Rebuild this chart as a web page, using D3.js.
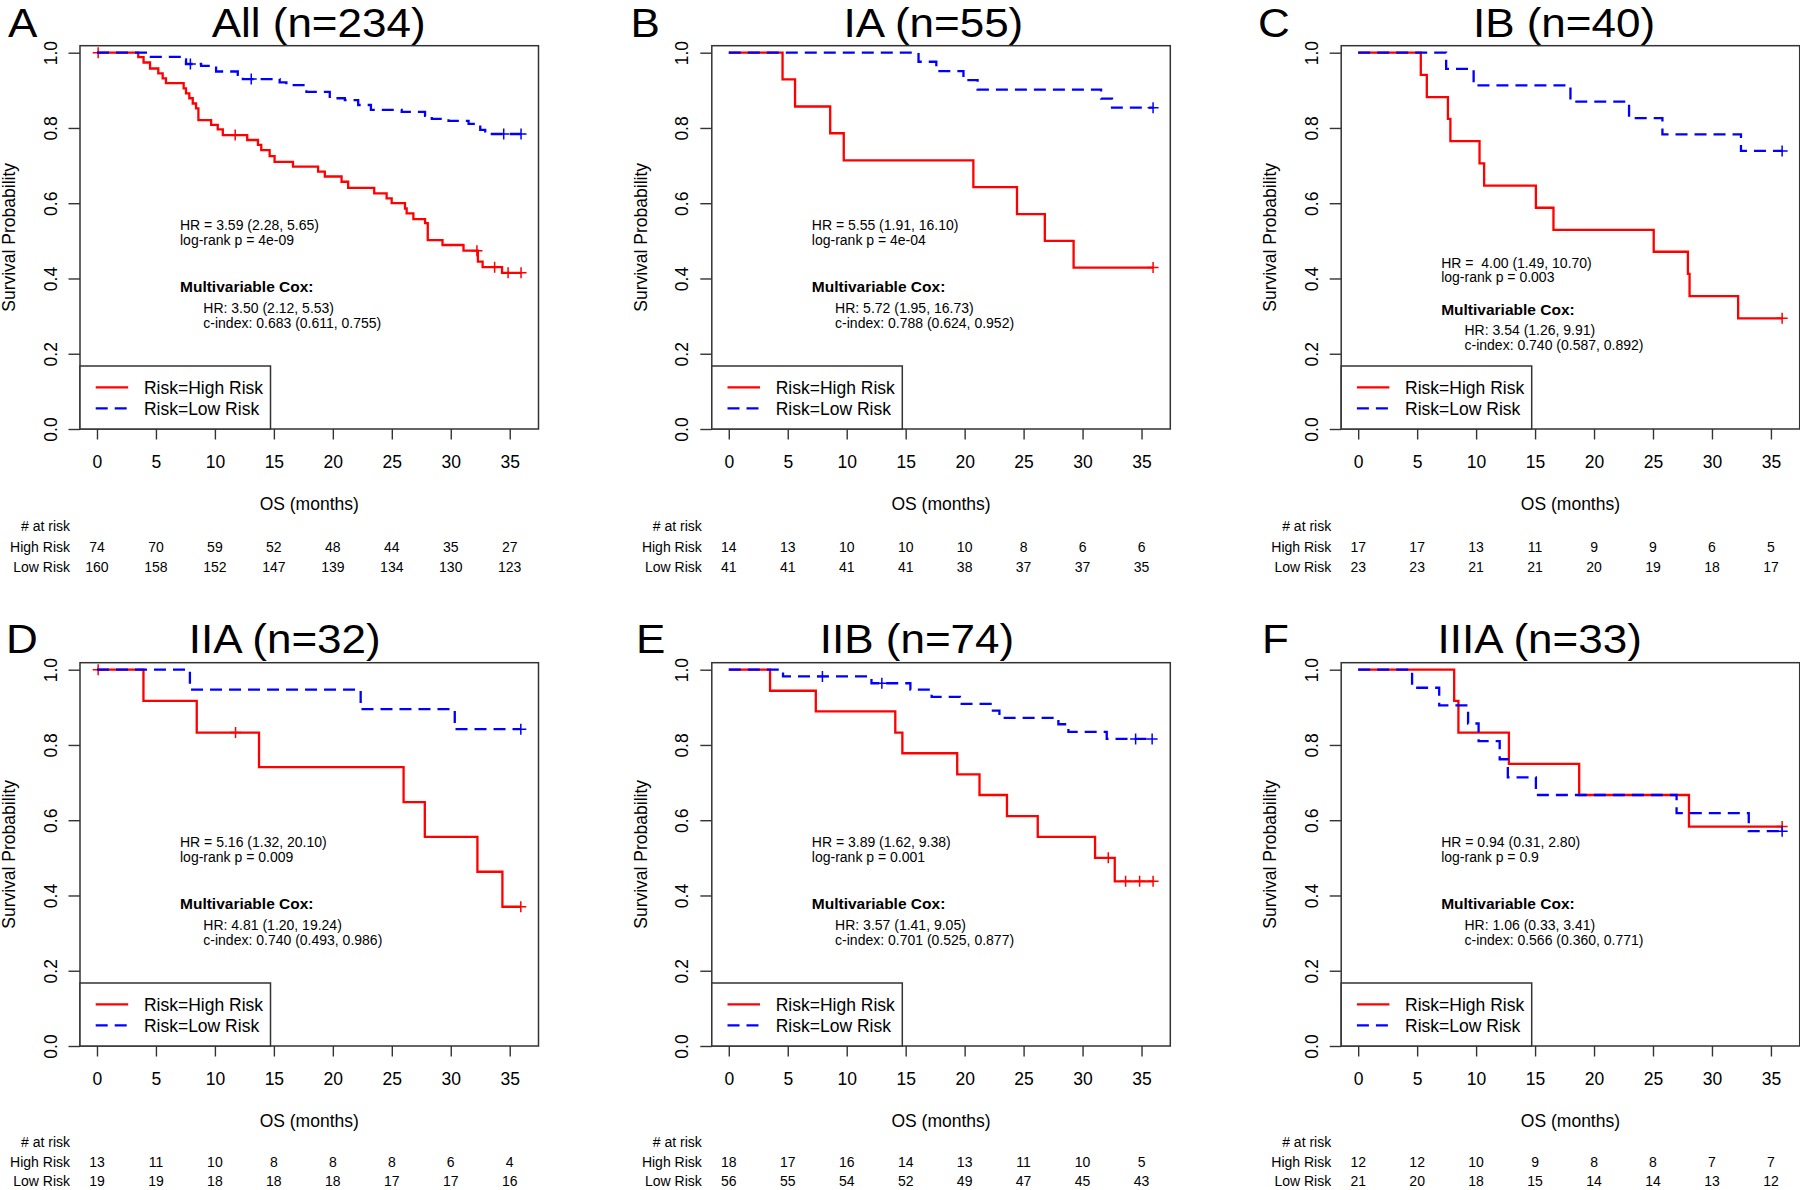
<!DOCTYPE html>
<html><head><meta charset="utf-8">
<script src="https://cdn.jsdelivr.net/npm/d3@7"></script>
<style>
html,body{margin:0;padding:0;background:#fff;}
svg{display:block;font-family:"Liberation Sans",Arial,Helvetica,sans-serif;}
text{white-space:pre;}
</style></head><body>
<svg id="chart" width="1800" height="1190"></svg>
<script>
// ---------------- data ----------------
const xTicks = [0, 5, 10, 15, 20, 25, 30, 35];
const yTicks = [0, 0.2, 0.4, 0.6, 0.8, 1.0];
const panelLetters = ["A", "B", "C", "D", "E", "F"];
const panelTitles = ["All (n=234)", "IA (n=55)", "IB (n=40)", "IIA (n=32)", "IIB (n=74)", "IIIA (n=33)"];
const seriesNames = ["Risk=High Risk", "Risk=Low Risk"];
const riskRowLabels = ["High Risk", "Low Risk"];

// Kaplan-Meier steps: [time (months), survival after the drop]
const allHighSteps = [[3.5,0.988],[3.95,0.974],[4.5,0.958],[5.2,0.945],[5.57,0.932],[5.85,0.919],[7.35,0.905],[7.55,0.892],[7.83,0.879],[8.12,0.865],[8.4,0.852],[8.6,0.821],[9.68,0.808],[10.24,0.796],[10.67,0.781],[12.74,0.768],[13.65,0.755],[13.93,0.741],[14.64,0.725],[15.06,0.710],[16.62,0.697],[18.75,0.684],[19.32,0.671],[20.74,0.657],[21.3,0.641],[23.51,0.626],[24.56,0.613],[24.99,0.600],[26.12,0.586],[26.26,0.573],[26.83,0.558],[27.82,0.547],[28.05,0.502],[29.3,0.489],[31.08,0.474],[32.3,0.445],[32.7,0.430],[34.35,0.415]];
const allHighCensor = [0.1, 11.72, 32.22, 33.72, 34.86, 35.96];
const allLowSteps = [[4.57,0.989],[7.12,0.982],[7.55,0.970],[8.83,0.965],[10.1,0.950],[11.94,0.941],[12.37,0.930],[15.49,0.921],[16.06,0.914],[17.76,0.896],[19.74,0.879],[21.02,0.874],[22.15,0.861],[23.23,0.848],[25.84,0.843],[27.82,0.832],[28.39,0.824],[29.81,0.819],[31.51,0.811],[32.5,0.795],[32.92,0.784]];
const allLowCensor = [7.92, 13.08, 34.49, 35.96];

const iaHighSteps = [[4.56,0.929],[5.62,0.857],[8.6,0.786],[9.75,0.714],[20.74,0.643],[24.44,0.571],[26.8,0.5],[29.24,0.429]];
const iaHighCensor = [35.98];
const iaLowSteps = [[16.09,0.976],[17.6,0.951],[19.9,0.927],[21.1,0.902],[31.57,0.878],[32.5,0.854]];
const iaLowCensor = [35.98];

const ibHighSteps = [[5.31,0.941],[5.82,0.882],[7.61,0.824],[7.82,0.765],[10.29,0.706],[10.68,0.647],[15.07,0.588],[16.56,0.529],[25.06,0.471],[27.96,0.412],[28.1,0.353],[32.22,0.294]];
const ibHighCensor = [35.95];
const ibLowSteps = [[7.46,0.957],[9.79,0.913],[18.0,0.870],[22.97,0.826],[25.8,0.783],[32.46,0.739]];
const ibLowCensor = [35.95];

const iiaHighSteps = [[3.94,0.917],[8.46,0.833],[13.74,0.741],[26.0,0.648],[27.8,0.556],[32.26,0.463],[34.38,0.370]];
const iiaHighCensor = [0.1, 11.75, 35.94];
const iiaLowSteps = [[7.88,0.947],[22.36,0.895],[30.34,0.842]];
const iiaLowCensor = [35.94];

const iibHighSteps = [[3.5,0.944],[7.38,0.889],[14.12,0.833],[14.72,0.778],[19.37,0.722],[21.26,0.667],[23.59,0.611],[26.2,0.556],[31.06,0.5],[32.73,0.4375]];
const iibHighCensor = [32.18, 33.65, 34.84, 35.98];
const iibLowSteps = [[4.6,0.982],[12.1,0.964],[15.4,0.947],[17.2,0.928],[19.6,0.909],[22.2,0.891],[22.95,0.872],[27.95,0.855],[28.8,0.835],[32.05,0.816]];
const iibLowCensor = [7.94, 12.98, 34.5, 35.9];

const iiiaHighSteps = [[8.14,0.917],[8.5,0.833],[12.78,0.75],[18.74,0.667],[28.05,0.583]];
const iiiaHighCensor = [35.95];
const iiiaLowSteps = [[4.57,0.952],[6.87,0.905],[9.32,0.857],[10.21,0.810],[12.0,0.762],[12.69,0.714],[15.07,0.667],[27.0,0.619],[33.12,0.571]];
const iiiaLowCensor = [35.95];

const followUpEnd = [35.96, 35.98, 35.95, 35.94, 35.98, 35.95];

// numbers at risk at 0,5,...,35
const allRiskHigh = [74, 70, 59, 52, 48, 44, 35, 27];
const allRiskLow = [160, 158, 152, 147, 139, 134, 130, 123];
const iaRiskHigh = [14, 13, 10, 10, 10, 8, 6, 6];
const iaRiskLow = [41, 41, 41, 41, 38, 37, 37, 35];
const ibRiskHigh = [17, 17, 13, 11, 9, 9, 6, 5];
const ibRiskLow = [23, 23, 21, 21, 20, 19, 18, 17];
const iiaRiskHigh = [13, 11, 10, 8, 8, 8, 6, 4];
const iiaRiskLow = [19, 19, 18, 18, 18, 17, 17, 16];
const iibRiskHigh = [18, 17, 16, 14, 13, 11, 10, 5];
const iibRiskLow = [56, 55, 54, 52, 49, 47, 45, 43];
const iiiaRiskHigh = [12, 12, 10, 9, 8, 8, 7, 7];
const iiiaRiskLow = [21, 20, 18, 15, 14, 14, 13, 12];

// annotation texts
const hrTexts = [
  ["HR = 3.59 (2.28, 5.65)", "log-rank p = 4e-09"],
  ["HR = 5.55 (1.91, 16.10)", "log-rank p = 4e-04"],
  ["HR =  4.00 (1.49, 10.70)", "log-rank p = 0.003"],
  ["HR = 5.16 (1.32, 20.10)", "log-rank p = 0.009"],
  ["HR = 3.89 (1.62, 9.38)", "log-rank p = 0.001"],
  ["HR = 0.94 (0.31, 2.80)", "log-rank p = 0.9"]
];
const coxTexts = [
  ["HR: 3.50 (2.12, 5.53)", "c-index: 0.683 (0.611, 0.755)"],
  ["HR: 5.72 (1.95, 16.73)", "c-index: 0.788 (0.624, 0.952)"],
  ["HR: 3.54 (1.26, 9.91)", "c-index: 0.740 (0.587, 0.892)"],
  ["HR: 4.81 (1.20, 19.24)", "c-index: 0.740 (0.493, 0.986)"],
  ["HR: 3.57 (1.41, 9.05)", "c-index: 0.701 (0.525, 0.877)"],
  ["HR: 1.06 (0.33, 3.41)", "c-index: 0.566 (0.360, 0.771)"]
];

const panels = [
  {high: allHighSteps, highC: allHighCensor, low: allLowSteps, lowC: allLowCensor, rh: allRiskHigh, rl: allRiskLow},
  {high: iaHighSteps, highC: iaHighCensor, low: iaLowSteps, lowC: iaLowCensor, rh: iaRiskHigh, rl: iaRiskLow},
  {high: ibHighSteps, highC: ibHighCensor, low: ibLowSteps, lowC: ibLowCensor, rh: ibRiskHigh, rl: ibRiskLow},
  {high: iiaHighSteps, highC: iiaHighCensor, low: iiaLowSteps, lowC: iiaLowCensor, rh: iiaRiskHigh, rl: iiaRiskLow},
  {high: iibHighSteps, highC: iibHighCensor, low: iibLowSteps, lowC: iibLowCensor, rh: iibRiskHigh, rl: iibRiskLow},
  {high: iiiaHighSteps, highC: iiiaHighCensor, low: iiiaLowSteps, lowC: iiiaLowCensor, rh: iiiaRiskHigh, rl: iiiaRiskLow}
];

// ---------------- layout ----------------
const boxLefts = [80, 711.8, 1341.2];
const rowY0 = [429, 1046];
const boxW = 458.5;
const unitH = 376.3;        // pixels for survival 0 -> 1
const boxTopExtra = 7;      // box top above survival 1.0
const letterX = [8, 630.5, 1258, 6, 636, 1262];
const titleCX = [318.6, 933.4, 1564, 284.7, 917, 1539.7];
const titleBase = [36.5, 653];
const tableRows = [[101.7, 122.7, 143.3], [100.5, 120.5, 140]];
const annoShift = [[0,0],[0,0],[37.4,22.6],[0,0],[0,0],[0,0]];
const colors = ["#FF0000", "#0000FF"];
const boxColor = "#333";
const dash = "12,7";

const svg = d3.select("#chart");
svg.append("rect").attr("width", 1800).attr("height", 1190).attr("fill", "#fff");

panels.forEach((p, i) => {
  const row = Math.floor(i / 3), col = i % 3;
  const L = boxLefts[col], y0 = rowY0[row];
  const x = d3.scaleLinear().domain([-1.44, 37.44]).range([L, L + boxW]);
  const y = d3.scaleLinear().domain([0, 1]).range([y0, y0 - unitH]);
  const top = y0 - unitH - boxTopExtra;
  const g = svg.append("g");

  // letter + title (slightly wide face, as in the reference)
  g.append("text").attr("transform", `translate(${letterX[i]},${titleBase[row]}) scale(1.1,1)`)
    .attr("font-size", 40).attr("fill", "#000").text(panelLetters[i]);
  g.append("text").attr("transform", `translate(${titleCX[i]},${titleBase[row]}) scale(1.1,1)`)
    .attr("font-size", 40).attr("text-anchor", "middle").attr("fill", "#000").text(panelTitles[i]);

  // axes
  const xAxis = g.append("g").attr("transform", `translate(0,${y0})`)
    .call(d3.axisBottom(x).tickValues(xTicks).tickSize(10.5).tickSizeOuter(0));
  xAxis.select(".domain").remove();
  xAxis.selectAll(".tick line").attr("stroke", boxColor).attr("stroke-width", 1.4);
  xAxis.selectAll(".tick text").attr("y", 39).attr("dy", null)
    .attr("font-size", 17.5).attr("fill", "#000").attr("font-family", null);

  const yAxis = g.append("g").attr("transform", `translate(${L},0)`)
    .call(d3.axisLeft(y).tickValues(yTicks).tickSize(11.5).tickSizeOuter(0).tickFormat(d3.format(".1f")));
  yAxis.select(".domain").remove();
  yAxis.selectAll(".tick line").attr("stroke", boxColor).attr("stroke-width", 1.4);
  yAxis.selectAll(".tick text").attr("x", 0).attr("y", -23.5).attr("dy", null)
    .attr("transform", "rotate(-90)").attr("text-anchor", "middle")
    .attr("font-size", 17.5).attr("fill", "#000").attr("font-family", null);

  // axis titles
  g.append("text").attr("transform", `translate(${L - 65},${(top + y0) / 2}) rotate(-90)`)
    .attr("text-anchor", "middle").attr("font-size", 17.5).text("Survival Probability");
  g.append("text").attr("x", L + boxW / 2).attr("y", y0 + 80.7)
    .attr("text-anchor", "middle").attr("font-size", 17.5).text("OS (months)");

  // box
  g.append("rect").attr("x", L).attr("y", top).attr("width", boxW).attr("height", y0 - top)
    .attr("fill", "none").attr("stroke", boxColor).attr("stroke-width", 1.5);

  // annotations
  const hs = annoShift[i][0], cs = annoShift[i][1];
  const ax = L + 100;
  g.append("text").attr("x", ax).attr("y", y0 - 198.7 + hs).attr("font-size", 14).text(hrTexts[i][0]);
  g.append("text").attr("x", ax).attr("y", y0 - 184 + hs).attr("font-size", 14).text(hrTexts[i][1]);
  g.append("text").attr("x", ax).attr("y", y0 - 136.7 + cs).attr("font-size", 15.5)
    .attr("font-weight", "bold").text("Multivariable Cox:");
  g.append("text").attr("x", ax + 23.3).attr("y", y0 - 116.3 + cs).attr("font-size", 14).text(coxTexts[i][0]);
  g.append("text").attr("x", ax + 23.3).attr("y", y0 - 101.3 + cs).attr("font-size", 14).text(coxTexts[i][1]);

  // legend
  const lg = g.append("g");
  lg.append("rect").attr("x", L).attr("y", y0 - 63).attr("width", 190.5).attr("height", 63)
    .attr("fill", "#fff").attr("stroke", boxColor).attr("stroke-width", 1.5);
  [0, 1].forEach(k => {
    const ly = y0 - 41.7 + k * 21;
    lg.append("line").attr("x1", L + 15.7).attr("x2", L + 48.2).attr("y1", ly).attr("y2", ly)
      .attr("stroke", colors[k]).attr("stroke-width", 2.3)
      .attr("stroke-dasharray", k === 1 ? dash : null);
    lg.append("text").attr("x", L + 63.9).attr("y", ly + 6.2).attr("font-size", 17.5).text(seriesNames[k]);
  });

  // curves
  const line = d3.line().x(d => x(d[0])).y(d => y(d[1])).curve(d3.curveStepAfter);
  [[p.high, p.highC], [p.low, p.lowC]].forEach(([steps, cens], k) => {
    const last = steps[steps.length - 1][1];
    const pts = [[0, 1]].concat(steps, [[followUpEnd[i], last]]);
    g.append("path").datum(pts).attr("d", line).attr("fill", "none")
      .attr("stroke", colors[k]).attr("stroke-width", 2.3)
      .attr("stroke-dasharray", k === 1 ? dash : null);
    const survAt = t => { let s = 1; steps.forEach(d => { if (d[0] <= t) s = d[1]; }); return s; };
    cens.forEach(c => {
      const cx = x(c), cy = y(survAt(c));
      g.append("path").attr("d", `M${cx - 5.5},${cy}H${cx + 5.5}M${cx},${cy - 5.5}V${cy + 5.5}`)
        .attr("stroke", colors[k]).attr("stroke-width", 1.5).attr("fill", "none");
    });
  });

  // numbers at risk
  const tr = tableRows[row];
  const tb = g.append("g").attr("font-size", 14);
  tb.append("text").attr("x", L - 10).attr("y", y0 + tr[0]).attr("text-anchor", "end").text("# at risk");
  [p.rh, p.rl].forEach((vals, k) => {
    const ry = y0 + tr[k + 1];
    tb.append("text").attr("x", L - 10).attr("y", ry).attr("text-anchor", "end").text(riskRowLabels[k]);
    vals.forEach((v, j) => {
      tb.append("text").attr("x", x(xTicks[j])).attr("y", ry).attr("text-anchor", "middle").text(v);
    });
  });
});
</script>
</body></html>
